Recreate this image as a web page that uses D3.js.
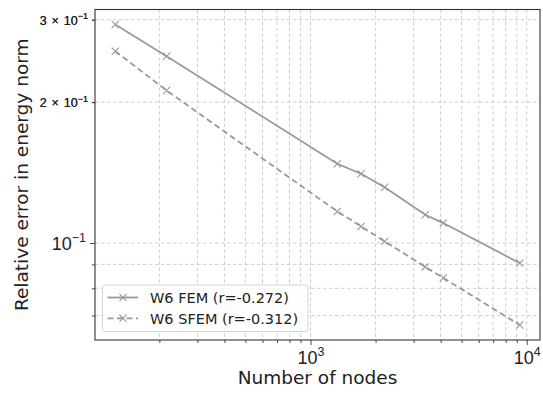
<!DOCTYPE html>
<html>
<head>
<meta charset="utf-8">
<script src="https://cdn.jsdelivr.net/npm/d3@7"></script>
<style>
  html, body { margin: 0; padding: 0; background: #fff; }
  svg { display: block; font-family: "DejaVu Sans", sans-serif; }
</style>
</head>
<body>
<svg id="chart" width="543" height="394"></svg>
<script>
// Mesh sizes (number of nodes) and relative energy-norm errors
const nodes = [125, 216, 1330, 1714, 2203, 3396, 4113, 9290];
const femError = [0.293, 0.2507, 0.1477, 0.1406, 0.1316, 0.1149, 0.1103, 0.0906];
const sfemError = [0.257, 0.2118, 0.1168, 0.1085, 0.1008, 0.0889, 0.0842, 0.0668];
const seriesNames = ["W6 FEM (r=-0.272)", "W6 SFEM (r=-0.312)"];
const xMajorTicks = [1e3, 1e4];
const yMajorTicks = [0.1];
const yLabeledMinor = [0.2, 0.3];

const W = 543, H = 394;
const m = { left: 95, right: 3, top: 9.5, bottom: 54 };
const pw = W - m.left - m.right, ph = H - m.top - m.bottom;

const svg = d3.select("#chart");
const g = svg.append("g").attr("transform", `translate(${m.left},${m.top})`);

// log-space domain with 5% padding on each side
function padLog(vals) {
  const lo = Math.log10(d3.min(vals)), hi = Math.log10(d3.max(vals));
  const p = (hi - lo) * 0.05;
  return [Math.pow(10, lo - p), Math.pow(10, hi + p)];
}
const x = d3.scaleLog().domain(padLog(nodes)).range([0, pw]);
const y = d3.scaleLog().domain(padLog(femError.concat(sfemError))).range([ph, 0]);

const inRange = (s) => (v) => v >= s.domain()[0] && v <= s.domain()[1];
const xMinor = [];
for (let d = 10; d <= 1e4; d *= 10) for (let k = 2; k <= 9; k++) xMinor.push(k * d);
const xMinorIn = xMinor.filter(inRange(x));
const yMinor = [];
for (let d = 0.01; d <= 0.1; d *= 10) for (let k = 2; k <= 9; k++) yMinor.push(+(k * d).toPrecision(3));
const yMinorIn = yMinor.filter(inRange(y));

const gridColor = "#cfcfcf";
// grid lines
const grid = g.append("g");
grid.selectAll(".gx").data(xMajorTicks.concat(xMinorIn).filter(inRange(x))).join("line")
  .attr("x1", d => x(d)).attr("x2", d => x(d)).attr("y1", 0).attr("y2", ph)
  .attr("stroke", gridColor).attr("stroke-width", 1).attr("stroke-dasharray", "3.5,2.5");
grid.selectAll(".gy").data(yMajorTicks.concat(yMinorIn)).join("line")
  .attr("y1", d => y(d)).attr("y2", d => y(d)).attr("x1", 0).attr("x2", pw)
  .attr("stroke", gridColor).attr("stroke-width", 1).attr("stroke-dasharray", "3.5,2.5");

const axisColor = "#333";
const tickText = "#222";

// x axis: major and minor ticks
const xAxisMinor = g.append("g").attr("transform", `translate(0,${ph})`)
  .call(d3.axisBottom(x).tickValues(xMinorIn).tickSize(3).tickFormat(""));
const xAxis = g.append("g").attr("transform", `translate(0,${ph})`)
  .call(d3.axisBottom(x).tickValues(xMajorTicks).tickSize(5).tickPadding(6).tickFormat(""));
[xAxisMinor, xAxis].forEach(a => {
  a.select(".domain").remove();
  a.selectAll("line").attr("stroke", axisColor).attr("stroke-width", 0.9);
});
xAxis.selectAll(".tick").append("text")
  .attr("y", 23.5).attr("text-anchor", "middle").attr("fill", tickText)
  .attr("font-size", 18)
  .each(function (d) {
    const t = d3.select(this);
    t.append("tspan").text("10");
    t.append("tspan").attr("font-size", 12.5).attr("dy", -7.5).text(String(Math.round(Math.log10(d))));
  });

// y axis: minor ticks, labelled minor ticks and the major tick
const yAxisMinor = g.append("g")
  .call(d3.axisLeft(y).tickValues(yMinorIn.concat(yLabeledMinor)).tickSize(3).tickFormat(""));
const yAxis = g.append("g")
  .call(d3.axisLeft(y).tickValues(yMajorTicks).tickSize(5).tickFormat(""));
[yAxisMinor, yAxis].forEach(a => {
  a.select(".domain").remove();
  a.selectAll("line").attr("stroke", axisColor).attr("stroke-width", 0.9);
});
yAxis.selectAll(".tick").append("text")
  .attr("x", -9).attr("y", 6.5).attr("text-anchor", "end").attr("fill", tickText)
  .attr("font-size", 18)
  .each(function (d) {
    const t = d3.select(this);
    t.append("tspan").text("10");
    t.append("tspan").attr("font-size", 12.5).attr("dy", -7.5).text("\u22121");
  });
yAxisMinor.selectAll(".tick").filter(d => yLabeledMinor.includes(d)).append("text")
  .attr("x", -7).attr("y", 4.4).attr("text-anchor", "end").attr("fill", tickText)
  .attr("font-size", 12.5).attr("word-spacing", 1.5)
  .each(function (d) {
    const t = d3.select(this);
    t.append("tspan").text(Math.round(d * 10) + " \u00d7 10");
    t.append("tspan").attr("font-size", 9).attr("dy", -5.5).text("\u22121");
  });

// data lines
const lineColor = "#999";
const line = d3.line().x((d, i) => x(nodes[i])).y(d => y(d));
const series = [
  { name: seriesNames[0], values: femError, dash: null },
  { name: seriesNames[1], values: sfemError, dash: "6,3.5" }
];
const cross = (sel, s) => sel.attr("d", `M${-s},${-s}L${s},${s}M${-s},${s}L${s},${-s}`)
  .attr("stroke", lineColor).attr("stroke-width", 1.1).attr("fill", "none");

series.forEach(s => {
  g.append("path").datum(s.values).attr("d", line)
    .attr("fill", "none").attr("stroke", lineColor).attr("stroke-width", 1.8)
    .attr("stroke-dasharray", s.dash);
  g.selectAll(null).data(s.values).join("path")
    .attr("transform", (d, i) => `translate(${x(nodes[i])},${y(d)})`)
    .call(cross, 3.6);
});

// frame
g.append("rect").attr("width", pw).attr("height", ph)
  .attr("fill", "none").attr("stroke", axisColor).attr("stroke-width", 1.1);

// legend
const lg = g.append("g").attr("transform", `translate(7.5,275.5)`);
lg.append("rect").attr("width", 205.5).attr("height", 46.5).attr("rx", 3)
  .attr("fill", "rgba(255,255,255,0.85)").attr("stroke", "#d6d6d6").attr("stroke-width", 1);
series.forEach((s, i) => {
  const yy = 12.5 + i * 20.8;
  lg.append("line").attr("x1", 5).attr("x2", 35.5).attr("y1", yy).attr("y2", yy)
    .attr("stroke", lineColor).attr("stroke-width", 1.8).attr("stroke-dasharray", s.dash);
  lg.append("path").attr("transform", `translate(20.5,${yy})`).call(cross, 3.6);
  lg.append("text").attr("x", 47.5).attr("y", yy + 5.2).attr("font-size", 14.5)
    .attr("fill", tickText).text(s.name);
});

// axis titles
svg.append("text").attr("x", m.left + pw / 2).attr("y", 384)
  .attr("text-anchor", "middle").attr("font-size", 18.5).attr("fill", tickText)
  .text("Number of nodes");
svg.append("text").attr("transform", `translate(28,${m.top + ph / 2}) rotate(-90)`)
  .attr("text-anchor", "middle").attr("font-size", 18.5).attr("fill", tickText)
  .text("Relative error in energy norm");
</script>
</body>
</html>
